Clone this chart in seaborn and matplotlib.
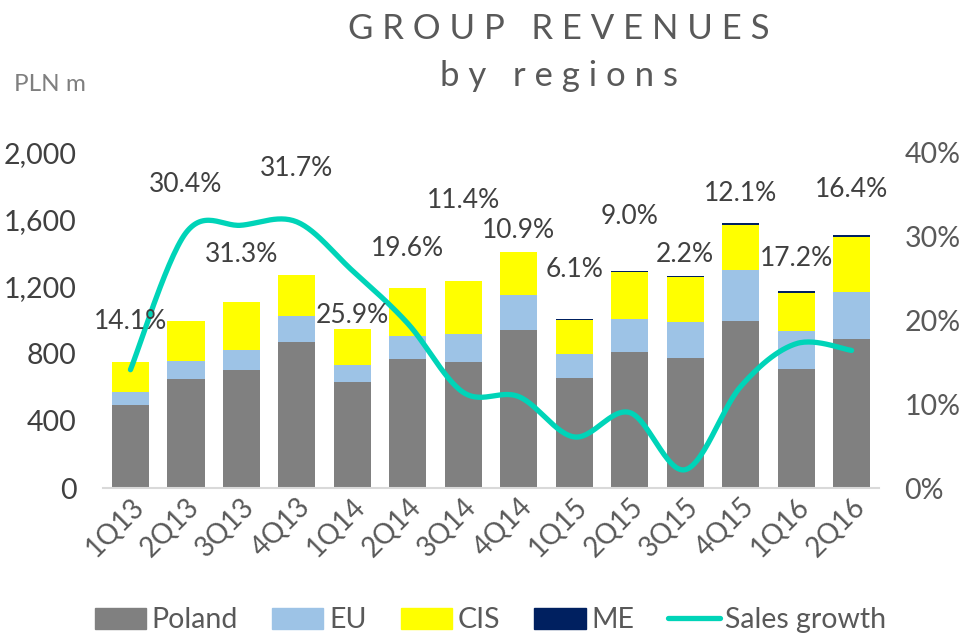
import numpy as np
import pandas as pd
import matplotlib
matplotlib.use("Agg")
import matplotlib.pyplot as plt
import seaborn as sns
from matplotlib.patches import Patch
from matplotlib.lines import Line2D

quarters = ["1Q13", "2Q13", "3Q13", "4Q13", "1Q14", "2Q14", "3Q14", "4Q14",
            "1Q15", "2Q15", "3Q15", "4Q15", "1Q16", "2Q16"]
poland = [493, 649, 702, 868, 631, 767, 750, 944, 657, 809, 777, 997, 708, 888]
eu = [78, 109, 121, 155, 101, 137, 166, 203, 140, 196, 210, 304, 225, 277]
cis = [183, 235, 287, 247, 216, 285, 320, 259, 202, 281, 269, 268, 230, 332]
me = [0, 0, 0, 0, 0, 0, 0, 0, 5, 8, 8, 10, 10, 8]
sales_growth = [14.1, 30.4, 31.3, 31.7, 25.9, 19.6, 11.4, 10.9, 6.1, 9.0, 2.2, 12.1, 17.2, 16.4]
label_y = [19.9, 36.1, 27.8, 38.1, 20.5, 28.5, 34.3, 30.7, 26.0, 32.3, 27.8, 35.1, 27.4, 35.5]

C_POL, C_EU, C_CIS, C_ME, C_LINE = "#808080", "#9DC3E6", "#FFFF00", "#002060", "#00D4B8"

sns.set_theme(style="white")
plt.rcParams["font.family"] = ["Lato", "DejaVu Sans"]

fig = plt.figure(figsize=(9.6, 6.34), dpi=100)
ax = fig.add_axes([0.107, 0.230, 0.809, 0.530])

df = pd.DataFrame({"q": quarters, "pol": poland, "eu": eu, "cis": cis, "me": me})
df["s1"] = df["pol"]
df["s2"] = df["s1"] + df["eu"]
df["s3"] = df["s2"] + df["cis"]
df["s4"] = df["s3"] + df["me"]

for col, c in [("s4", C_ME), ("s3", C_CIS), ("s2", C_EU), ("s1", C_POL)]:
    sns.barplot(data=df, x="q", y=col, color=c, width=0.67, ax=ax,
                saturation=1, linewidth=0, order=quarters)

ax.set_ylim(0, 2000)
ax.set_xlim(-0.5, 13.5)
ax.set_yticks([0, 400, 800, 1200, 1600, 2000])
ax.set_yticklabels(["0", "400", "800", "1,200", "1,600", "2,000"])
ax.set_xlabel("")
ax.set_ylabel("")
for s in ["top", "right", "left"]:
    ax.spines[s].set_visible(False)
ax.spines["bottom"].set_color("#D9D9D9")
ax.spines["bottom"].set_linewidth(1.5)
ax.tick_params(axis="y", length=0, labelsize=20.5, labelcolor="#404040", pad=19)
ax.tick_params(axis="x", length=0, labelsize=20, labelcolor="#595959", pad=4)
for lbl in ax.get_xticklabels():
    lbl.set_rotation(45)
    lbl.set_ha("right")
    lbl.set_rotation_mode("anchor")

# secondary axis: sales growth, smoothed like a spreadsheet smooth line
ax2 = ax.twinx()
ax2.set_ylim(0, 40)
ax2.set_yticks([0, 10, 20, 30, 40])
ax2.set_yticklabels(["0%", "10%", "20%", "30%", "40%"])
for s in ax2.spines.values():
    s.set_visible(False)
ax2.tick_params(axis="y", length=0, labelsize=20.5, labelcolor="#595959", pad=18)

xs = np.arange(len(sales_growth), dtype=float)
ys = np.array(sales_growth, dtype=float)
px = np.concatenate([[xs[0]], xs, [xs[-1]]])
py = np.concatenate([[ys[0]], ys, [ys[-1]]])
cx, cy = [], []
for i in range(1, len(px) - 2):
    p0, p1, p2, p3 = (np.array([px[j], py[j]]) for j in (i - 1, i, i + 1, i + 2))
    b1 = p1 + (p2 - p0) / 6
    b2 = p2 - (p3 - p1) / 6
    t = np.linspace(0, 1, 30)[:, None]
    seg = (1 - t) ** 3 * p1 + 3 * (1 - t) ** 2 * t * b1 + 3 * (1 - t) * t ** 2 * b2 + t ** 3 * p2
    cx.extend(seg[:, 0]); cy.extend(seg[:, 1])
line_df = pd.DataFrame({"x": cx, "y": cy})
sns.lineplot(data=line_df, x="x", y="y", ax=ax2, color=C_LINE, linewidth=3.8,
             sort=False, estimator=None, solid_capstyle="round")
ax2.set_xlabel("")
ax2.set_ylabel("")

for i, (v, ly) in enumerate(zip(sales_growth, label_y)):
    ax2.text(i, ly, f"{v:.1f}%", ha="center", va="center", fontsize=19, color="#404040")

fig.text(0.582, 0.955, "G R O U P   R E V E N U E S", ha="center", va="center",
         fontsize=25, color="#595959")
fig.text(0.582, 0.880, "b y   r e g i o n s", ha="center", va="center",
         fontsize=25, color="#595959")
fig.text(0.015, 0.866, "PLN m", ha="left", va="center", fontsize=17.5, color="#7F7F7F")

handles = [Patch(color=C_POL, label="Poland"), Patch(color=C_EU, label="EU"),
           Patch(color=C_CIS, label="CIS"), Patch(color=C_ME, label="ME"),
           Line2D([], [], color=C_LINE, linewidth=3.8, label="Sales growth")]
leg = fig.legend(handles=handles, loc="center", bbox_to_anchor=(0.511, 0.022), ncol=5,
                 frameon=False, fontsize=20.5, handlelength=1.8, handleheight=0.75,
                 handletextpad=0.2, columnspacing=1.2)
for t in leg.get_texts():
    t.set_color("#595959")

fig.savefig("out.png", dpi=100)
